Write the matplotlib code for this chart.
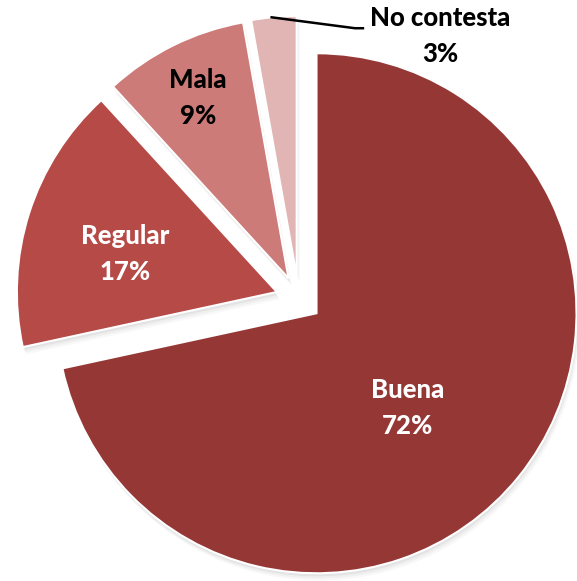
import matplotlib
matplotlib.use("Agg")
import matplotlib.pyplot as plt

categories = ["Buena", "Regular", "Mala", "No contesta"]
values = [71.6, 16.6, 9.0, 2.8]
pct_labels = ["72%", "17%", "9%", "3%"]
colors = ["#953735", "#B54A47", "#CD7B79", "#E1B5B4"]
text_colors = ["white", "white", "black", "black"]
label_pos = [(0.420, -0.420), (-0.668, 0.173), (-0.387, 0.773), (0.543, 1.011)]
explode = [0.088, 0.088, 0.088, 0.088]

fig = plt.figure(figsize=(5.77, 5.81), dpi=100)
ax = fig.add_axes([0, 0, 1, 1])

# soft shadow
for dx, dy, a in [(0.004, -0.012, 0.10), (0.008, -0.020, 0.07), (0.012, -0.028, 0.05)]:
    ax.pie(values, explode=explode, startangle=90, counterclock=False,
           colors=["#808080"] * 4, center=(dx, dy),
           wedgeprops=dict(linewidth=0, alpha=a))

wedges, _ = ax.pie(values, explode=explode, startangle=90, counterclock=False,
                   colors=colors, wedgeprops=dict(edgecolor="white", linewidth=1.5))

for cat, pct, (x, y), tc in zip(categories, pct_labels, label_pos, text_colors):
    ax.text(x, y, f"{cat}\n{pct}", ha="center", va="center", color=tc,
            fontsize=18.5, fontweight="black", family="Lato", linespacing=1.6)

ax.plot([-0.104, 0.2165, 0.247], [1.083, 1.041, 1.041], color="black", linewidth=1.8)

ax.set_xlim(-1.1488, 1.0704)
ax.set_ylim(-1.085, 1.1496)
ax.set_aspect("auto")
ax.axis("off")
fig.savefig("out.png", dpi=100)
